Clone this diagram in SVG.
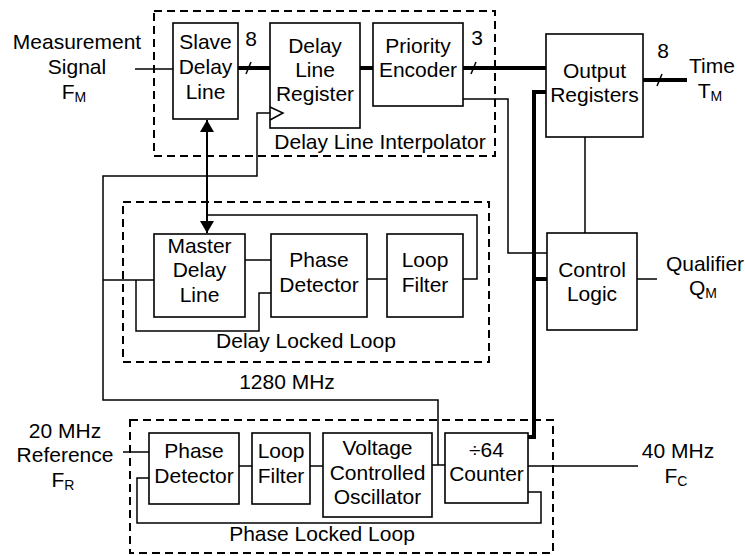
<svg xmlns="http://www.w3.org/2000/svg" width="745" height="556" viewBox="0 0 745 556">
<defs>
<style>
text{font-family:"Liberation Sans",Arial,sans-serif;font-size:21px;fill:#000;text-anchor:middle}
.sub{font-size:14px}
.box{fill:#fff;stroke:#000;stroke-width:1.6}
.dash{fill:none;stroke:#000;stroke-width:2;stroke-dasharray:8,5}
.w{fill:none;stroke:#000;stroke-width:1.5}
.bus{fill:none;stroke:#000;stroke-width:4}
</style>
<marker id="ah" viewBox="0 0 12 14" refX="12" refY="7" markerWidth="12" markerHeight="14" markerUnits="userSpaceOnUse" orient="auto-start-reverse">
<path d="M0,0 L12,7 L0,14 Z" fill="#000"/>
</marker>
</defs>
<rect width="745" height="556" fill="#fff"/>

<g id="groups">
<rect class="dash" x="154" y="11" width="341" height="145"/>
<text x="380" y="149">Delay Line Interpolator</text>
<rect class="dash" x="123" y="202" width="366" height="160"/>
<text x="306" y="348">Delay Locked Loop</text>
<rect class="dash" x="130" y="420" width="423" height="133"/>
<text x="322" y="541">Phase Locked Loop</text>
</g>

<g id="connectors">
<line class="w" x1="135" y1="69" x2="173" y2="69"/>
<line class="bus" x1="238" y1="68" x2="270" y2="68"/>
<line class="w" x1="246" y1="74" x2="251" y2="62"/>
<line class="bus" x1="360" y1="68" x2="373" y2="68"/>
<line class="bus" x1="463" y1="68" x2="546" y2="68"/>
<line class="w" x1="471" y1="74" x2="476" y2="62"/>
<line class="bus" x1="643" y1="80" x2="687" y2="80"/>
<line class="w" x1="657" y1="86" x2="662" y2="74"/>
<path class="bus" d="M546,92 H534 V437 H528"/>
<line class="bus" x1="534" y1="279" x2="547" y2="279"/>
<path class="w" d="M463,99 H508 V253 H547"/>
<line class="w" x1="585" y1="137" x2="585" y2="233"/>
<line class="w" x1="637" y1="279" x2="657" y2="279"/>
<line class="w" x1="207" y1="120" x2="207" y2="233" marker-start="url(#ah)" marker-end="url(#ah)" style="stroke-width:2"/>
<path class="w" d="M463,279 H477 V215 H207"/>
<path class="w" d="M270,113 H257 V176 H103 V400 H438 V465"/>
<line class="w" x1="103" y1="280" x2="154" y2="280"/>
<path class="w" d="M136,280 V331 H259 V293 H271"/>
<line class="w" x1="245" y1="260" x2="271" y2="260"/>
<line class="w" x1="367" y1="279" x2="387" y2="279"/>
<line class="w" x1="123" y1="452" x2="149" y2="452"/>
<line class="w" x1="239" y1="466" x2="252" y2="466"/>
<line class="w" x1="310" y1="466" x2="323" y2="466"/>
<line class="w" x1="432" y1="465" x2="445" y2="465"/>
<line class="w" x1="528" y1="466" x2="638" y2="466"/>
<path class="w" d="M528,492 H541 V523 H137 V478 H149"/>
</g>

<g id="labels">
<text x="77" y="49">Measurement</text>
<text x="77" y="74">Signal</text>
<text x="74" y="99">F<tspan class="sub" dy="3">M</tspan></text>
<text x="251" y="46">8</text>
<text x="477" y="45">3</text>
<text x="663" y="58">8</text>
<text x="712" y="73">Time</text>
<text x="710" y="98">T<tspan class="sub" dy="3">M</tspan></text>
<text x="705" y="271">Qualifier</text>
<text x="703" y="295">Q<tspan class="sub" dy="3">M</tspan></text>
<text x="287" y="389">1280 MHz</text>
<text x="65" y="438">20 MHz</text>
<text x="65" y="462">Reference</text>
<text x="63" y="487">F<tspan class="sub" dy="3">R</tspan></text>
<text x="678" y="458">40 MHz</text>
<text x="676" y="483">F<tspan class="sub" dy="3">C</tspan></text>
</g>

<g id="slave-delay-line">
<rect class="box" x="173" y="23" width="65" height="96"/>
<text x="205.5" y="49">Slave</text>
<text x="205.5" y="74">Delay</text>
<text x="205.5" y="99">Line</text>
</g>
<g id="delay-line-register">
<rect class="box" x="270" y="23" width="90" height="105"/>
<path class="w" d="M270,107 L283,113 L270,120"/>
<text x="315" y="53">Delay</text>
<text x="315" y="77">Line</text>
<text x="315" y="101">Register</text>
</g>
<g id="priority-encoder">
<rect class="box" x="373" y="23" width="90" height="83"/>
<text x="418" y="53">Priority</text>
<text x="418" y="77">Encoder</text>
</g>
<g id="output-registers">
<rect class="box" x="546" y="34" width="97" height="103"/>
<text x="594.5" y="78">Output</text>
<text x="594.5" y="102">Registers</text>
</g>
<g id="control-logic">
<rect class="box" x="547" y="233" width="90" height="97"/>
<text x="592" y="277">Control</text>
<text x="592" y="301">Logic</text>
</g>
<g id="master-delay-line">
<rect class="box" x="154" y="234" width="91" height="83"/>
<text x="199.5" y="253">Master</text>
<text x="199.5" y="277">Delay</text>
<text x="199.5" y="302">Line</text>
</g>
<g id="dll-phase-detector">
<rect class="box" x="271" y="234" width="96" height="83"/>
<text x="319" y="267">Phase</text>
<text x="319" y="292">Detector</text>
</g>
<g id="dll-loop-filter">
<rect class="box" x="387" y="234" width="76" height="83"/>
<text x="425" y="267">Loop</text>
<text x="425" y="292">Filter</text>
</g>
<g id="pll-phase-detector">
<rect class="box" x="149" y="433" width="90" height="71"/>
<text x="194" y="458">Phase</text>
<text x="194" y="483">Detector</text>
</g>
<g id="pll-loop-filter">
<rect class="box" x="252" y="433" width="58" height="71"/>
<text x="281" y="458">Loop</text>
<text x="281" y="483">Filter</text>
</g>
<g id="vco">
<rect class="box" x="323" y="433" width="109" height="84"/>
<text x="377.5" y="455">Voltage</text>
<text x="377.5" y="480">Controlled</text>
<text x="377.5" y="504">Oscillator</text>
</g>
<g id="counter">
<rect class="box" x="445" y="433" width="83" height="70"/>
<text x="486.5" y="457">÷64</text>
<text x="486.5" y="481">Counter</text>
</g>
</svg>
